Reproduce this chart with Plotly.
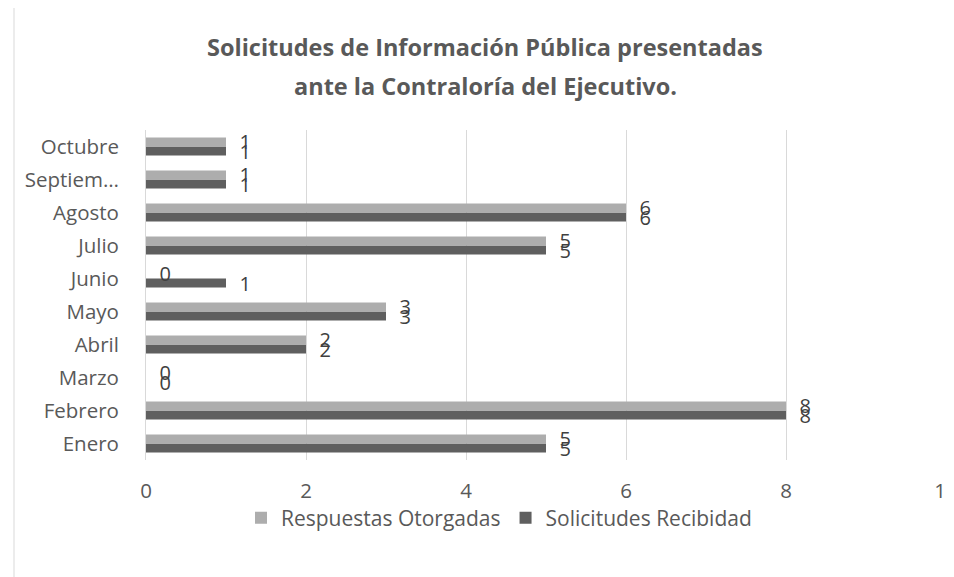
import plotly.graph_objects as go

months = ["Enero", "Febrero", "Marzo", "Abril", "Mayo", "Junio", "Julio", "Agosto", "Septiembre", "Octubre"]
month_labels = ["Enero", "Febrero", "Marzo", "Abril", "Mayo", "Junio", "Julio", "Agosto", "Septiem…", "Octubre"]
respuestas = [5, 8, 0, 2, 3, 0, 5, 6, 1, 1]
solicitudes = [5, 8, 0, 2, 3, 1, 5, 6, 1, 1]
x_ticks = [0, 2, 4, 6, 8, 10]

FONT = "Open Sans"
TXT = "#595959"
OFF = 8  # page body margin offset

W, H = 954 - OFF, 577 - OFF
# target window-pixel positions
PL, PR, PT, PB = 146, 946, 130, 460
ml, mt = PL - OFF, PT - OFF
mr = W - (PR - OFF)
mb = H - (PB - OFF)
pw, ph = W - ml - mr, H - mt - mb

def px(x):
    return (x - OFF - ml) / pw

def py(y):
    return (H - mb - (y - OFF)) / ph

fig = go.Figure()
fig.add_trace(go.Bar(
    y=months, x=solicitudes, orientation="h", name="Solicitudes Recibidad",
    marker=dict(color="#5F5F5F", line=dict(width=0)),
    text=solicitudes, texttemplate="  %{x}", textposition="outside", constraintext="none",
    textfont=dict(family=FONT, size=20, color="#404040"), cliponaxis=False,
))
fig.add_trace(go.Bar(
    y=months, x=respuestas, orientation="h", name="Respuestas Otorgadas",
    marker=dict(color="#ADADAD", line=dict(width=0)),
    text=respuestas, texttemplate="  %{x}", textposition="outside", constraintext="none",
    textfont=dict(family=FONT, size=20, color="#404040"), cliponaxis=False,
))

fig.update_layout(
    width=W, height=H,
    margin=dict(l=ml, r=mr, t=mt, b=mb),
    paper_bgcolor="white", plot_bgcolor="white",
    barmode="group", bargap=0.45, bargroupgap=0,
    font=dict(family=FONT, color=TXT),
    showlegend=True,
    legend=dict(orientation="h", traceorder="reversed",
                x=px(499), y=py(518), xanchor="center", yanchor="middle",
                font=dict(family=FONT, size=21, color=TXT), itemwidth=30),
    xaxis=dict(range=[0, 10], tickvals=x_ticks, showgrid=True, gridcolor="#D9D9D9", gridwidth=1,
               zeroline=False, showline=False, ticks="outside", ticklen=12, tickcolor="rgba(0,0,0,0)",
               ticklabeloverflow="allow", automargin=False,
               tickfont=dict(family=FONT, size=20.5, color=TXT)),
    yaxis=dict(categoryorder="array", categoryarray=months, tickvals=months, ticktext=month_labels,
               showline=True, linecolor="#D9D9D9", linewidth=1, showgrid=False, zeroline=False,
               ticks="outside", ticklen=22, tickcolor="rgba(0,0,0,0)", automargin=False,
               tickfont=dict(family=FONT, size=20.5, color=TXT)),
    annotations=[
        dict(text="<b>Solicitudes de Información Pública presentadas</b>", xref="paper", yref="paper",
             x=px(485), y=py(47), xanchor="center", yanchor="middle", showarrow=False,
             font=dict(family=FONT, size=23.5, color=TXT)),
        dict(text="<b>ante la Contraloría del Ejecutivo.</b>", xref="paper", yref="paper",
             x=px(485), y=py(86), xanchor="center", yanchor="middle", showarrow=False,
             font=dict(family=FONT, size=23.5, color=TXT)),
    ],
    shapes=[
        dict(type="rect", xref="paper", yref="paper", x0=px(14), x1=px(990), y0=py(620), y1=py(6),
             line=dict(color="#D9D9D9", width=1), fillcolor="rgba(0,0,0,0)", layer="below"),
    ],
)

post = (
    "var d=document.getElementById('{plot_id}');"
    "d.style.overflow='hidden';"
    "document.body.style.overflow='hidden';"
    "document.documentElement.style.overflow='hidden';"
)
fig.write_html("out.html", post_script=post)
